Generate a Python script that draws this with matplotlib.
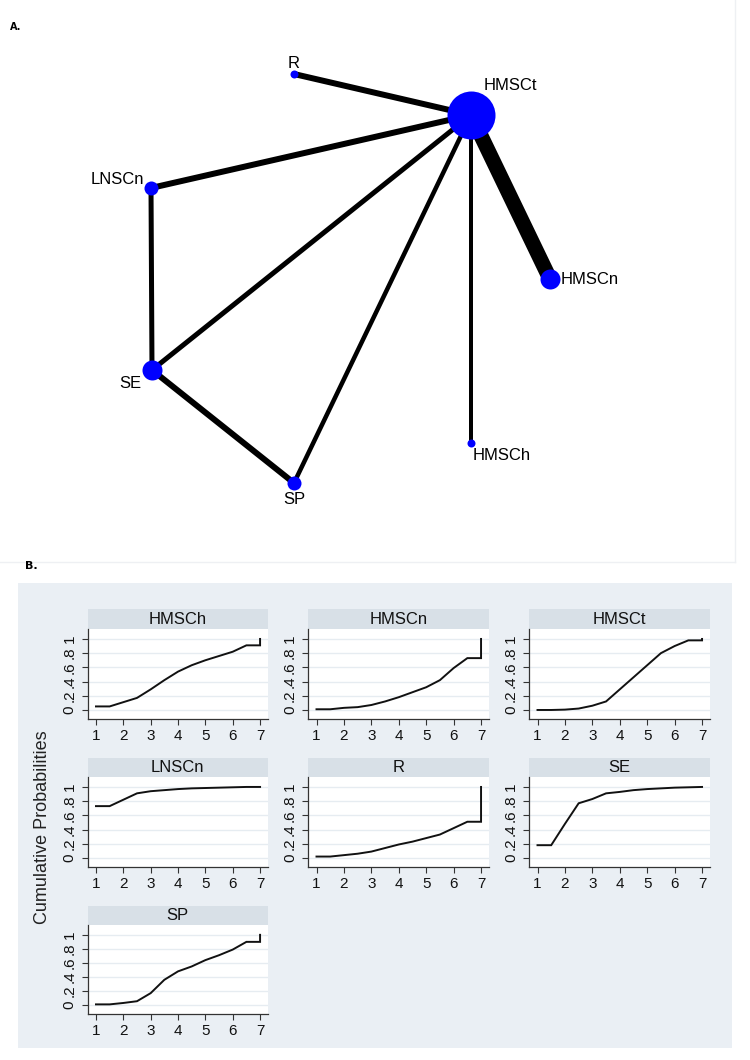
import matplotlib
matplotlib.use("Agg")
import matplotlib.pyplot as plt
from matplotlib.patches import Rectangle

plt.rcParams['font.family'] = ['Liberation Sans Narrow', 'Liberation Sans', 'DejaVu Sans']

# ---------------- Data ----------------
# Panel A: network
node_names = ["HMSCt", "R", "LNSCn", "SE", "SP", "HMSCh", "HMSCn"]
node_x = [471, 294, 151, 152, 294, 471, 550]
node_y = [115, 74, 188, 370, 483, 443, 279]
node_size = [48, 8, 14, 20, 14, 8, 20]          # diameter (px)
edge_from = ["R", "LNSCn", "LNSCn", "SE", "SP", "SE", "HMSCh", "HMSCn"]
edge_to = ["HMSCt", "HMSCt", "SE", "HMSCt", "HMSCt", "SP", "HMSCt", "HMSCt"]
edge_width = [6, 6, 5, 5, 4.5, 6, 4, 15]        # px

# Panel B: cumulative ranking probabilities
treatments = ["HMSCh", "HMSCn", "HMSCt", "LNSCn", "R", "SE", "SP"]
rank_x = [1, 1.5, 2, 2.5, 3, 3.5, 4, 4.5, 5, 5.5, 6, 6.5, 7, 7]
cum_HMSCh = [0.05, 0.05, 0.11, 0.17, 0.29, 0.42, 0.54, 0.63, 0.70, 0.76, 0.82, 0.91, 0.91, 1.0]
cum_HMSCn = [0.01, 0.01, 0.03, 0.04, 0.07, 0.12, 0.18, 0.25, 0.32, 0.42, 0.59, 0.73, 0.73, 1.0]
cum_HMSCt = [0.0, 0.0, 0.005, 0.02, 0.06, 0.12, 0.29, 0.46, 0.63, 0.80, 0.90, 0.98, 0.98, 1.0]
cum_LNSCn = [0.73, 0.73, 0.82, 0.91, 0.94, 0.955, 0.97, 0.98, 0.985, 0.99, 0.995, 1.0, 1.0, 1.0]
cum_R = [0.02, 0.02, 0.04, 0.06, 0.09, 0.14, 0.19, 0.23, 0.28, 0.33, 0.42, 0.51, 0.51, 1.0]
cum_SE = [0.18, 0.18, 0.48, 0.77, 0.83, 0.91, 0.93, 0.955, 0.97, 0.98, 0.99, 0.995, 1.0, 1.0]
cum_SP = [0.01, 0.01, 0.03, 0.055, 0.17, 0.36, 0.48, 0.55, 0.64, 0.71, 0.79, 0.90, 0.90, 1.0]
cum_values = [cum_HMSCh, cum_HMSCn, cum_HMSCt, cum_LNSCn, cum_R, cum_SE, cum_SP]
xticks = [1, 2, 3, 4, 5, 6, 7]
yticks = [0, 0.2, 0.4, 0.6, 0.8, 1.0]
ytick_labels = ["0", ".2", ".4", ".6", ".8", "1"]

# ---------------- Figure ----------------
W, H = 750, 1060
fig = plt.figure(figsize=(W / 100, H / 100), dpi=100)
fig.patch.set_facecolor("white")

base = fig.add_axes([0, 0, 1, 1])
base.set_xlim(0, W)
base.set_ylim(H, 0)
base.axis("off")

PX2PT = 0.72

# faint frame of panel A
base.plot([735, 735], [0, 562], color="#eef0f3", lw=1, zorder=0)
base.plot([0, 735], [562, 562], color="#eef0f3", lw=1, zorder=0)

base.text(10, 27, "A.", fontsize=7, fontweight="bold", family="DejaVu Sans", va="center")
base.text(25, 566, "B.", fontsize=8, fontweight="bold", family="DejaVu Sans", va="center")

pos = {n: (x, y) for n, x, y in zip(node_names, node_x, node_y)}
for a, b, w in zip(edge_from, edge_to, edge_width):
    base.plot([pos[a][0], pos[b][0]], [pos[a][1], pos[b][1]], color="black",
              lw=w * PX2PT, solid_capstyle="butt", zorder=2)
for n, x, y, s in zip(node_names, node_x, node_y, node_size):
    base.plot(x, y, "o", ms=s * PX2PT, color="#0000ff", mec="#0000ff", mew=0, zorder=3)

lab_fs = 12
base.text(294, 63, "R", fontsize=lab_fs, ha="center", va="center")
base.text(484, 86, "HMSCt", fontsize=lab_fs, ha="left", va="center")
base.text(144, 179, "LNSCn", fontsize=lab_fs, ha="right", va="center")
base.text(561, 280, "HMSCn", fontsize=lab_fs, ha="left", va="center")
base.text(130, 383, "SE", fontsize=lab_fs, ha="center", va="center")
base.text(294, 499, "SP", fontsize=lab_fs, ha="center", va="center")
base.text(473, 456, "HMSCh", fontsize=lab_fs, ha="left", va="center")

# Panel B background
base.add_patch(Rectangle((18, 583), 714, 465, facecolor="#eaeff4", edgecolor="none", zorder=0))

base.text(43, 827, "Cumulative Probabilities", rotation=90, fontsize=13,
          family="Liberation Sans", ha="center", va="center", color="#222222")

col_left = [87.5, 308, 529]
col_right = [268, 489, 710]
row_strip_top = [609, 758, 906]
row_plot_top = [629, 777, 925]
row_axis = [719, 867, 1014]


def frac_rect(l, t, r, b):
    return [l / W, 1 - b / H, (r - l) / W, (b - t) / H]


for i, (name, vals) in enumerate(zip(treatments, cum_values)):
    row, col = divmod(i, 3)
    l, r = col_left[col], col_right[col]
    st, pt, bt = row_strip_top[row], row_plot_top[row], row_axis[row]
    # title strip
    base.add_patch(Rectangle((l, st), r - l, pt - st, facecolor="#d8e0e7",
                             edgecolor="none", zorder=1))
    base.text((l + r) / 2, (st + pt) / 2 + 0.5, name, fontsize=12, ha="center",
              va="center", color="#111111", zorder=2)
    ax = fig.add_axes(frac_rect(l, pt, r, bt))
    ax.set_facecolor("white")
    ax.set_xlim(0.69, 7.29)
    ax.set_ylim(-0.127, 1.14)
    for y in yticks:
        ax.axhline(y, color="#e6ecf1", lw=1.0, zorder=0)
    ax.plot(rank_x, vals, color="#111111", lw=1.4, zorder=3,
            solid_joinstyle="miter")
    for s in ["top", "right"]:
        ax.spines[s].set_visible(False)
    for s in ["left", "bottom"]:
        ax.spines[s].set_color("#333333")
        ax.spines[s].set_linewidth(0.9)
    ax.set_xticks(xticks)
    ax.set_xticklabels([str(v) for v in xticks])
    ax.set_yticks(yticks)
    ax.set_yticklabels(ytick_labels, rotation=90, va="center")
    ax.tick_params(axis="x", length=4, width=0.8, color="#333333", pad=3,
                   labelsize=11, labelcolor="#111111")
    ax.tick_params(axis="y", length=4, width=0.8, color="#333333", pad=4,
                   labelsize=11, labelcolor="#111111")

fig.savefig("out.png", dpi=100, facecolor="white")
